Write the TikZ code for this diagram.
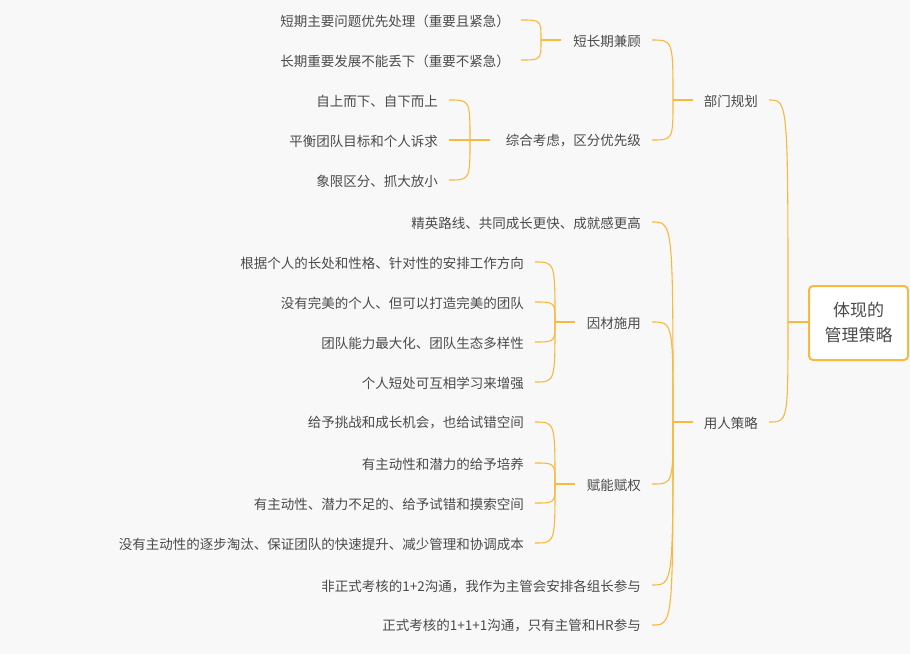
\documentclass[tikz,border=0pt]{standalone}
\usepackage{fontspec}
\setmainfont{Noto Sans CJK SC}
\definecolor{ln}{HTML}{F8B93C}
\definecolor{tx}{HTML}{4A4A4A}
\definecolor{bg}{HTML}{F8F8F8}
\tikzset{conn/.style={draw=ln,line width=1.1pt},
 txt/.style={inner sep=0pt,text=tx,font=\fontsize{13.5}{16}\selectfont,anchor=east}}
\newcommand\myleaf[4]{\coordinate (#1-e) at (#2,#3);\node[txt] (#1) at (#2-11,#3+1) {#4};}
\newcommand\mycurve[3]{\draw[conn] (#1-e) .. controls (#3) .. (#2);}
\begin{document}
\begin{tikzpicture}[x=1pt,y=-1pt]
\fill[bg] (0,0) rectangle (910,654);
\useasboundingbox (0,0) rectangle (910,654);
% root
\node[draw=ln,line width=2pt,rounded corners=4pt,fill=white,minimum width=99pt,minimum height=74pt,align=center,text=tx,font=\fontsize{17}{25}\selectfont,inner sep=0pt] (root) at (858.5,323) {体现的\\管理策略};
\coordinate (jr) at (788,322);
\draw[conn] (root.west |- jr) -- (jr);
% level 1
\myleaf{bm}{769}{100}{部门规划}
\myleaf{yr}{769}{422}{用人策略}
\mycurve{bm}{jr}{788,100}
\mycurve{yr}{jr}{788,422}
\coordinate (jbm) at (673,100); \draw[conn] (bm.west -| 693,0) ++(0,0) coordinate (tmp);
\draw[conn] (693,100) -- (jbm);
\coordinate (jyr) at (673,422); \draw[conn] (693,422) -- (jyr);
% 部门规划 children
\myleaf{dc}{652}{40}{短长期兼顾}
\myleaf{zh}{652}{140}{综合考虑，区分优先级}
\mycurve{dc}{jbm}{673,40}
\mycurve{zh}{jbm}{673,140}
\coordinate (jdc) at (541,40); \draw[conn] (561,40) -- (jdc);
\coordinate (jzh) at (470,140); \draw[conn] (490,140) -- (jzh);
\myleaf{a1}{521}{20}{短期主要问题优先处理（重要且紧急）}
\myleaf{a2}{521}{60}{长期重要发展不能丢下（重要不紧急）}
\mycurve{a1}{jdc}{541,20}
\mycurve{a2}{jdc}{541,60}
\myleaf{b1}{449}{100}{自上而下、自下而上}
\myleaf{b2}{449}{140}{平衡团队目标和个人诉求}
\myleaf{b3}{449}{180}{象限区分、抓大放小}
\mycurve{b1}{jzh}{470,100}
\draw[conn] (b2-e) -- (jzh);
\mycurve{b3}{jzh}{470,180}
% 用人策略 children
\myleaf{c1}{652}{222}{精英路线、共同成长更快、成就感更高}
\myleaf{yc}{652}{322}{因材施用}
\myleaf{fn}{652}{484}{赋能赋权}
\myleaf{c4}{652}{585}{非正式考核的1+2沟通，我作为主管会安排各组长参与}
\myleaf{c5}{652}{625}{正式考核的1+1+1沟通，只有主管和HR参与}
\foreach \n/\y in {c1/222,yc/322,fn/484,c4/585,c5/625} {\mycurve{\n}{jyr}{673,\y}}
\coordinate (jyc) at (555,322); \draw[conn] (575,322) -- (jyc);
\coordinate (jfn) at (555,484); \draw[conn] (575,484) -- (jfn);
\myleaf{d1}{535}{262}{根据个人的长处和性格、针对性的安排工作方向}
\myleaf{d2}{535}{302}{没有完美的个人、但可以打造完美的团队}
\myleaf{d3}{535}{342}{团队能力最大化、团队生态多样性}
\myleaf{d4}{535}{382}{个人短处可互相学习来增强}
\foreach \n/\y in {d1/262,d2/302,d3/342,d4/382} {\mycurve{\n}{jyc}{555,\y}}
\myleaf{e1}{535}{422}{给予挑战和成长机会，也给试错空间}
\myleaf{e2}{535}{463}{有主动性和潜力的给予培养}
\myleaf{e3}{535}{503}{有主动性、潜力不足的、给予试错和摸索空间}
\myleaf{e4}{535}{543}{没有主动性的逐步淘汰、保证团队的快速提升、减少管理和协调成本}
\foreach \n/\y in {e1/422,e2/463,e3/503,e4/543} {\mycurve{\n}{jfn}{555,\y}}
\end{tikzpicture}
\end{document}
